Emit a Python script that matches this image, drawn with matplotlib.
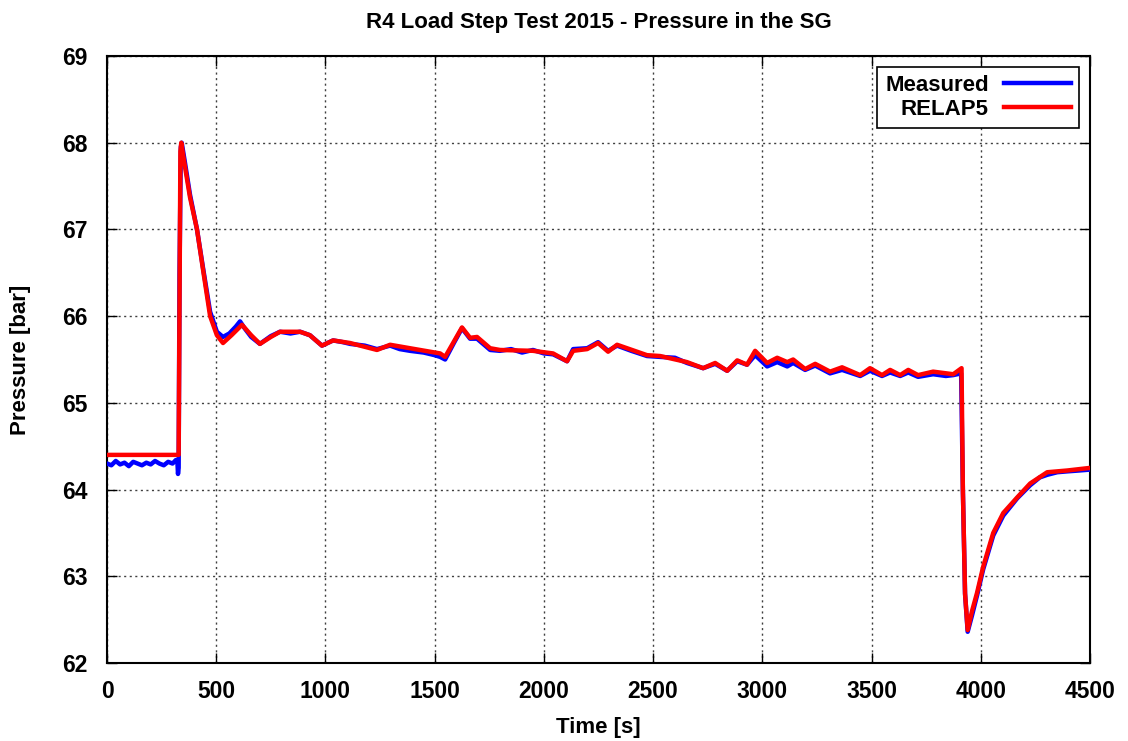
import matplotlib
matplotlib.use("Agg")
import matplotlib.pyplot as plt

plt.rcParams['font.family'] = ['Liberation Sans', 'DejaVu Sans']

title = "R4 Load Step Test 2015 - Pressure in the SG"
xlabel = "Time [s]"
ylabel = "Pressure [bar]"
xticks = [0, 500, 1000, 1500, 2000, 2500, 3000, 3500, 4000, 4500]
yticks = [62, 63, 64, 65, 66, 67, 68, 69]

meas_t = [0, 20, 40, 60, 80, 100, 120, 140, 160, 180, 200, 220, 240, 260, 280, 300, 315, 322, 325, 328,
          332, 338, 342, 355, 380, 412, 440, 472, 503, 531, 560, 590, 609, 630, 660, 700, 750, 792,
          840, 884, 929, 984, 1035, 1080, 1113, 1180, 1236, 1296, 1340, 1387, 1450, 1500, 1525, 1548,
          1590, 1625, 1662, 1694, 1754, 1799, 1850, 1900, 1950, 2000, 2042, 2106, 2134, 2198, 2248,
          2294, 2335, 2400, 2472, 2532, 2600, 2655, 2729, 2784, 2839, 2885, 2930, 2967, 3022, 3068,
          3114, 3141, 3196, 3242, 3310, 3365, 3448, 3493, 3548, 3585, 3631, 3668, 3713, 3782, 3840,
          3874, 3910, 3918, 3928, 3940, 3960, 3983, 4011, 4057, 4103, 4167, 4226, 4270, 4304, 4350,
          4396, 4450, 4500]
meas_p = [64.30, 64.28, 64.33, 64.29, 64.31, 64.27, 64.32, 64.30, 64.28, 64.31, 64.29, 64.33, 64.30,
          64.28, 64.32, 64.30, 64.34, 64.33, 64.18, 64.25,
          66.50, 67.95, 68.00, 67.80, 67.40, 67.00, 66.55, 66.05, 65.82, 65.76, 65.80, 65.88, 65.94,
          65.86, 65.76, 65.68, 65.77, 65.82, 65.80, 65.82, 65.78, 65.66, 65.72, 65.70, 65.68, 65.66,
          65.62, 65.66, 65.62, 65.60, 65.58, 65.55, 65.53, 65.50,
          65.70, 65.86, 65.74, 65.74, 65.61, 65.60, 65.62, 65.58, 65.61, 65.57, 65.56, 65.48, 65.62,
          65.63, 65.70, 65.60, 65.66, 65.60, 65.54, 65.53, 65.52, 65.46, 65.40, 65.45, 65.37, 65.48,
          65.44, 65.55, 65.42, 65.47, 65.42, 65.46, 65.38, 65.43, 65.34, 65.38, 65.31, 65.37, 65.31,
          65.35, 65.31, 65.35, 65.30, 65.33, 65.31, 65.32, 65.34, 64.00, 62.80, 62.36, 62.55, 62.78,
          63.08, 63.47, 63.70, 63.90, 64.05, 64.14, 64.17, 64.20, 64.21, 64.22, 64.23]

# RELAP5 simulation
sim_t = [0, 328, 336, 340, 352, 380, 412, 440, 472, 503, 531, 570, 618, 660, 700, 750, 792, 884,
         929, 984, 1035, 1113, 1236, 1296, 1387, 1525, 1548, 1625, 1662, 1694, 1754, 1799, 1950,
         2042, 2106, 2134, 2198, 2248, 2294, 2335, 2472, 2532, 2655, 2729, 2784, 2839, 2885, 2930,
         2967, 3022, 3068, 3114, 3141, 3196, 3242, 3310, 3365, 3448, 3493, 3548, 3585, 3631, 3668,
         3713, 3782, 3874, 3912, 3918, 3928, 3940, 3960, 3983, 4011, 4057, 4103, 4167, 4226, 4304,
         4396, 4500]
sim_p = [64.40, 64.40, 67.90, 68.00, 67.80, 67.37, 67.00, 66.53, 66.00, 65.78, 65.69, 65.78, 65.90,
         65.78, 65.68, 65.76, 65.82, 65.82, 65.78, 65.66, 65.72, 65.69, 65.61, 65.67, 65.63, 65.57,
         65.53, 65.87, 65.75, 65.76, 65.63, 65.61, 65.60, 65.57, 65.48, 65.60, 65.62, 65.69, 65.59,
         65.67, 65.55, 65.54, 65.47, 65.40, 65.46, 65.37, 65.49, 65.44, 65.60, 65.46, 65.52, 65.47,
         65.50, 65.39, 65.45, 65.36, 65.41, 65.32, 65.40, 65.32, 65.38, 65.32, 65.38, 65.32, 65.36,
         65.33, 65.40, 64.00, 62.80, 62.38, 62.60, 62.81, 63.11, 63.50, 63.73, 63.91, 64.07, 64.20,
         64.22, 64.25]

fig = plt.figure(figsize=(11.28, 7.41), dpi=100)
ax = fig.add_axes([107/1128, 1 - 663/741, (1090-107)/1128, (663-56)/741])

ax.plot(meas_t, meas_p, color='#0000ff', lw=3.2, label='Measured', zorder=3)
ax.plot(sim_t, sim_p, color='#ff0000', lw=3.2, label='RELAP5', zorder=4)

ax.set_xlim(0, 4500)
ax.set_ylim(62, 69)
ax.set_xticks(xticks)
ax.set_yticks(yticks)
ax.tick_params(direction='in', length=7, width=1, top=True, right=True, labelsize=16.5)
ax.tick_params(axis='x', pad=12)
ax.tick_params(axis='y', pad=14)
for lab in ax.get_xticklabels() + ax.get_yticklabels():
    lab.set_fontweight('bold')
for s in ax.spines.values():
    s.set_linewidth(1.5)
ax.grid(True, color='0.25', linestyle=(0, (1.5, 2.5)), linewidth=1)

ax.set_title(title, fontsize=16, fontweight='bold', pad=20)
ax.set_xlabel(xlabel, fontsize=16, fontweight='bold', labelpad=10)
ax.set_ylabel(ylabel, fontsize=16, fontweight='bold', labelpad=22)

leg = ax.legend(loc='upper right', markerfirst=False, fancybox=False, framealpha=1,
                edgecolor='black', prop={'size': 16, 'weight': 'bold'}, handlelength=3.0,
                borderaxespad=0.5, labelspacing=0.15, handletextpad=0.7, borderpad=0.35)
leg.get_frame().set_linewidth(1.2)

fig.savefig('out.png', dpi=100)
